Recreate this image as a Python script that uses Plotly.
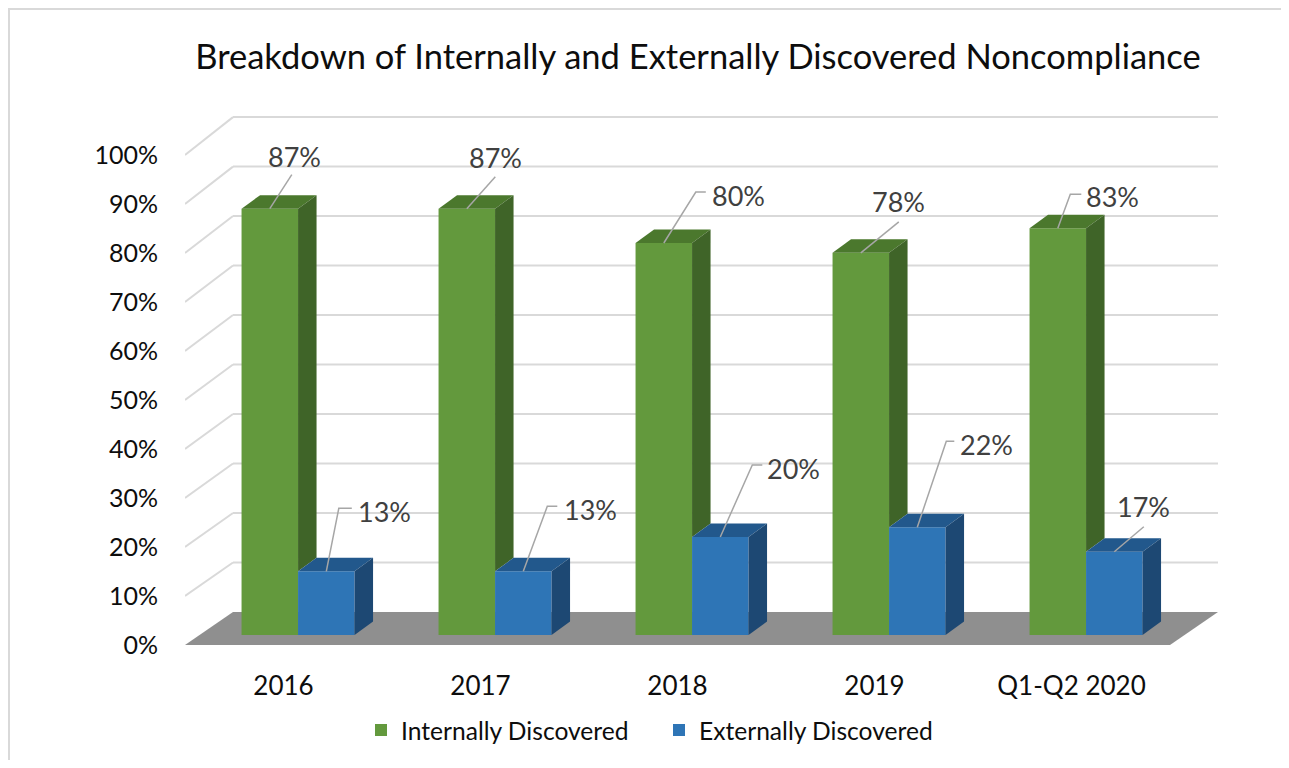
import plotly.graph_objects as go

# ---------------- data ----------------
categories = ["2016", "2017", "2018", "2019", "Q1-Q2 2020"]
internal_pct = [87, 87, 80, 78, 83]
external_pct = [13, 13, 20, 22, 17]
y_ticks = [0, 10, 20, 30, 40, 50, 60, 70, 80, 90, 100]
series_names = ["Internally Discovered", "Externally Discovered"]
title_text = "Breakdown of Internally and Externally Discovered Noncompliance"

# ---------------- layout / style ----------------
OFF = 8                      # browser body margin
W, H = 1289 - 2 * OFF, 768 - 2 * OFF
ML = 185 - OFF
MT = 106 - OFF
PLOT_BOTTOM = 645 - OFF
PLOT_RIGHT = 1218 - OFF
MB = H - PLOT_BOTTOM
MR = W - PLOT_RIGHT
PW, PH = W - ML - MR, H - MT - MB
PXX = 197.0          # px per category unit
PXY = 4.9            # px per percent unit
X0 = -0.5
XR = [X0, X0 + PW / PXX]
YR = [0, PH / PXY]

DXu = 48 / PXX       # floor depth offset (x)
DY = 33 / PXY        # floor depth offset (y)
BACK_K = 1.01        # slight perspective for back wall
d0 = 10 / 33         # depth of bar front plane
B = d0 * DY
SX = d0 * DXu
BW = 56.5 / PXX
BDX = 18.5 / PXX
BDY = 13.5 / PXY

GREEN = dict(front="#63993D", top="#4B782D", side="#3F6428")
BLUE = dict(front="#2E75B6", top="#22588C", side="#1D4873")
FLOOR = "#8F8F8F"
GRID = "#D9D9D9"
LEADER = "#A6A6A6"
FONT = "Lato"

# leader paths (px offsets from bar top-front centre) and label offsets
GREEN_LEADERS = [[(0, 0), (22, -34)], [(0, 0), (28.5, -32)], [(0, 0), (32, -51), (42, -51)],
                 [(0, 0), (38, -31)], [(0, 0), (12.5, -34), (23.5, -34)]]
GREEN_LABELS = [(25, -52), (28.5, -51), (75, -48), (38, -51), (55, -32)]
BLUE_LEADERS = [[(0, 0), (12.5, -63), (25.5, -63)], [(0, 0), (24, -65), (34, -65)],
                [(0, 0), (32, -72), (42, -72)], [(0, 0), (29, -86), (37, -86)],
                [(0, 0), (29.5, -25)]]
BLUE_LABELS = [(58, -60), (67, -62), (73, -69), (69, -83), (29.5, -45)]

xs = list(range(len(categories)))
fig = go.Figure()

def poly(pts, color):
    fig.add_trace(go.Scatter(x=[p[0] for p in pts] + [pts[0][0]],
                             y=[p[1] for p in pts] + [pts[0][1]],
                             mode="lines", fill="toself", fillcolor=color,
                             line=dict(width=0, color=color), hoverinfo="skip",
                             showlegend=False))

# front faces as real bars
offs = [-BW + SX, SX]
for vals, col, name, off in [(internal_pct, GREEN, series_names[0], offs[0]),
                             (external_pct, BLUE, series_names[1], offs[1])]:
    fig.add_trace(go.Bar(x=xs, y=vals, base=B, width=BW, offset=off, name=name,
                         marker=dict(color=col["front"], line=dict(width=0)),
                         hoverinfo="skip"))

# top and side faces
for i in xs:
    vg, vb = internal_pct[i], external_pct[i]
    gx0 = i + offs[0]; gx1 = gx0 + BW
    bx0 = i + offs[1]; bx1 = bx0 + BW
    poly([(gx0, B + vg), (gx1, B + vg), (gx1 + BDX, B + vg + BDY), (gx0 + BDX, B + vg + BDY)], GREEN["top"])
    poly([(gx1, B + vb), (gx1, B + vg), (gx1 + BDX, B + vg + BDY), (gx1 + BDX, B + vb + BDY)], GREEN["side"])
    poly([(bx0, B + vb), (bx1, B + vb), (bx1 + BDX, B + vb + BDY), (bx0 + BDX, B + vb + BDY)], BLUE["top"])
    poly([(bx1, B), (bx1, B + vb), (bx1 + BDX, B + vb + BDY), (bx1 + BDX, B + BDY)], BLUE["side"])

# leader lines and labels
lx, ly = [], []
annotations = []
for vals, leaders, labels, off in [(internal_pct, GREEN_LEADERS, GREEN_LABELS, offs[0]),
                                   (external_pct, BLUE_LEADERS, BLUE_LABELS, offs[1])]:
    for i in xs:
        ax = i + off + BW / 2
        ay = B + vals[i]
        for (dx, dy) in leaders[i]:
            lx.append(ax + dx / PXX); ly.append(ay - dy / PXY)
        lx.append(None); ly.append(None)
        tx, ty = labels[i]
        annotations.append(dict(x=ax + tx / PXX, y=ay - ty / PXY, xref="x", yref="y",
                                text=f"{vals[i]}%", showarrow=False,
                                font=dict(family=FONT, size=27, color="#404040"),
                                xanchor="center", yanchor="middle"))
fig.add_trace(go.Scatter(x=lx, y=ly, mode="lines", line=dict(color=LEADER, width=1.5),
                         hoverinfo="skip", showlegend=False))

# floor and walls
shapes = []
n = len(categories)
shapes.append(dict(type="path", xref="x", yref="y", layer="below",
                   path=f"M{X0},0 L{X0 + n},0 L{X0 + n + DXu},{DY} L{X0 + DXu},{DY} Z",
                   fillcolor=FLOOR, line=dict(width=0)))
for v in y_ticks:
    if v == 0:
        continue
    yb = v * BACK_K + DY
    shapes.append(dict(type="line", xref="x", yref="y", layer="below",
                       x0=X0 + DXu, x1=X0 + n + DXu, y0=yb, y1=yb,
                       line=dict(color=GRID, width=2)))
    shapes.append(dict(type="line", xref="x", yref="y", layer="below",
                       x0=X0, x1=X0 + DXu, y0=v, y1=yb,
                       line=dict(color=GRID, width=2)))

# page-pixel -> paper helpers
def paper_x(p): return (p - OFF - ML) / PW
def paper_y(p): return (PLOT_BOTTOM - (p - OFF)) / PH

shapes.append(dict(type="rect", xref="paper", yref="paper", layer="below",
                   x0=paper_x(OFF + 1), x1=paper_x(1300), y0=paper_y(800), y1=paper_y(OFF + 1),
                   line=dict(color="#D9D9D9", width=2), fillcolor="rgba(0,0,0,0)"))

fig.update_layout(
    width=W, height=H,
    margin=dict(l=ML, r=MR, t=MT, b=MB, autoexpand=False),
    paper_bgcolor="white", plot_bgcolor="rgba(0,0,0,0)",
    barmode="overlay", hovermode=False,
    title=dict(text=title_text, x=(698 - OFF) / W, xanchor="center",
               y=1 - (57 - OFF) / H, yanchor="middle",
               xref="container", yref="container",
               font=dict(family=FONT, size=34.5, color="#0D0D0D")),
    xaxis=dict(range=XR, tickvals=xs, ticktext=categories, showgrid=False, zeroline=False,
               showline=False, ticks="", ticklabelstandoff=23,
               tickfont=dict(family=FONT, size=26, color="#0D0D0D")),
    yaxis=dict(range=YR, tickvals=y_ticks, ticktext=[f"{v}%" for v in y_ticks],
               showgrid=False, zeroline=False, showline=False, ticks="", ticklabelstandoff=26,
               tickfont=dict(family=FONT, size=25, color="#0D0D0D")),
    legend=dict(orientation="h", x=paper_x(361), xanchor="left", y=paper_y(730),
                yanchor="middle", entrywidth=253, entrywidthmode="pixels",
                font=dict(family=FONT, size=24.6, color="#0D0D0D"),
                bgcolor="rgba(0,0,0,0)"),
    shapes=shapes, annotations=annotations,
)
fig.write_html("out.html")
